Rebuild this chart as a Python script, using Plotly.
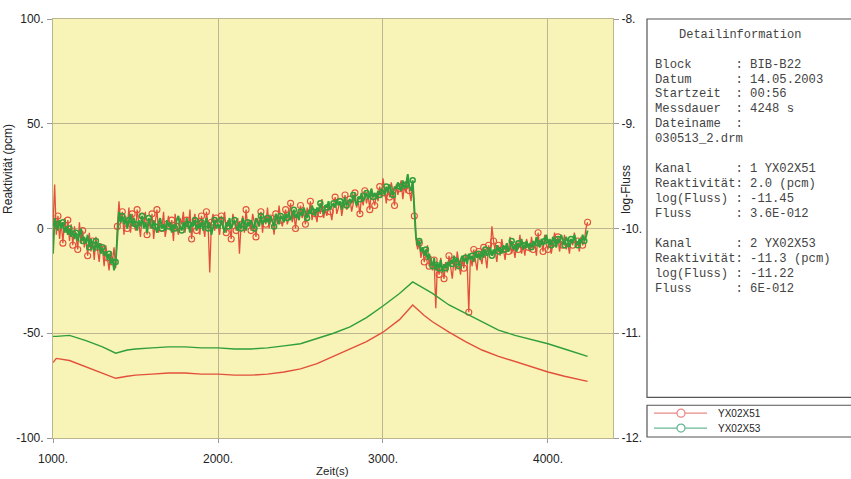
import plotly.graph_objects as go

# ---------------- data ----------------
t_start, t_step, t_end = 1000, 10, 4240
zeit = list(range(t_start, t_end + 1, t_step))

reak_x51 = [
    1, 21, -3, 6, -5, 3, -7, 5, -2, 4,
    -6, 2, -8, 1, -4, -10, 3, -7, -1, -9,
    -5, -13, -2, -11, -6, -15, -4, -9, -16, -7,
    -10, -18, -8, -14, -20, -11, -16, -9, -19, 1,
    13, 2, 8, -3, 6, 0, 10, -2, 7, 3,
    -1, 9, 2, -4, 6, 1, 8, -3, 4, 0,
    7, -5, 3, 9, -2, 5, 0, 8, -4, 2,
    6, -1, 4, -6, 7, 1, -3, 5, 2, 8,
    -2, 4, 0, 9, -5, 3, 7, -1, 5, -3,
    6, 1, -4, 8, 2, -21, 3, 7, -1, 5,
    2, -3, 6, 0, 8, -2, 4, 1, -5, 7,
    3, -1, 5, -12, 2, 6, -2, 9, 1, 4,
    -1, 7, 3, -4, 5, 1, 8, -2, 6, 2,
    10, 0, 5, 3, -3, 7, 2, 11, 4, 1,
    6, 9, 2, 5, 12, 3, 7, 0, 8, 4,
    11, 5, 8, 2, 10, 6, 13, 4, 9, 7,
    3, 10, 7, 14, 5, 9, 6, 12, 8, 4,
    11, 15, 7, 10, 13, 6, 12, 16, 9, 11,
    14, 8, 12, 17, 10, 13, 7, 15, 11, 18,
    12, 16, 9, 19, 14, 11, 17, 13, 20, 15,
    24, 17, 12, 20, 15, 22, 18, 11, 21, 16,
    19, 23, 14, 20, 17, 25, 18, 13, 22, 6,
    -5, -10, -7, -14, -9, -16, -12, -8, -18, -13,
    -20, -15, -38, -17, -22, -14, -19, -24, -16, -21,
    -13, -18, -24, -15, -20, -11, -17, -22, -14, -19,
    -12, -16, -40, -13, -18, -10, -15, -20, -11, -14,
    -17, -9, -13, -19, -8, -12, 1, -6, -11, -16,
    -8, -13, -5, -10, -15, -7, -11, -4, -12, -9,
    -14, -6, -10, -3, -12, -8, -13, -5, -9, -11,
    -4, -10, -7, -13, -2, -9, -6, -11, -3, -8,
    -10, -5, -12, -7, -2, -9, -4, -11, -6, -8,
    -3, -10, -7, -12, -5, -8, -2, -9, -6, -11,
    -4, -8, -6, 0, 3,
]

reak_x53 = [
    -12, 5, 2, -1, 4, 0, 3, -2, 1, -3,
    0, -4, -1, -5, -2, -6, -3, 0, -6, -4,
    -7, -3, -9, -5, -8, -11, -6, -10, -7, -12,
    -9, -13, -11, -15, -12, -17, -14, -20, -16, -2,
    8, 3, 6, 2, 5, 0, 4, 7, 1, 5,
    2, -1, 4, 1, 6, 0, 3, -2, 5, 2,
    0, 4, 1, -2, 3, 5, 0, 2, -1, 4,
    1, 3, -2, 2, 0, 4, 6, 1, -1, 3,
    0, 5, 2, -2, 3, 1, 4, -1, 2, 0,
    3, -1, 2, 5, 0, 3, -3, 1, 4, 0,
    2, 0, 4, 1, -2, 3, 1, 5, 0, 2,
    4, 1, -1, 3, 0, 5, 2, -1, 3, 1,
    4, 2, 0, 5, 3, 1, 6, 2, 4, 3,
    5, 2, 6, 3, 1, 7, 4, 2, 6, 5,
    3, 7, 5, 8, 4, 6, 9, 5, 7, 4,
    8, 6, 10, 7, 5, 9, 7, 11, 8, 6,
    10, 8, 12, 9, 7, 11, 10, 13, 9, 11,
    12, 10, 14, 11, 13, 9, 12, 15, 11, 13,
    14, 12, 16, 13, 11, 15, 14, 17, 13, 15,
    17, 14, 16, 19, 15, 17, 14, 18, 16, 19,
    18, 16, 20, 17, 21, 18, 16, 20, 19, 22,
    20, 18, 23, 19, 21, 26, 20, 18, 23, 8,
    -4, -8, -6, -11, -9, -13, -10, -15, -12, -16,
    -18, -14, -20, -16, -19, -15, -21, -17, -19, -16,
    -18, -15, -17, -13, -16, -14, -18, -15, -13, -16,
    -14, -17, -12, -15, -13, -16, -11, -14, -12, -15,
    -11, -14, -10, -13, -12, -9, -13, -10, -12, -8,
    -11, -9, -12, -8, -10, -7, -11, -9, -6, -10,
    -8, -11, -7, -9, -5, -10, -8, -6, -9, -7,
    -9, -6, -8, -4, -7, -9, -5, -8, -6, -3,
    -7, -5, -8, -4, -6, -9, -5, -7, -3, -6,
    -8, -4, -6, -9, -5, -7, -3, -6, -8, -5,
    -7, -3, -6, -4, -1,
]

fluss_zeit = [1000, 1020, 1100, 1200, 1300, 1380, 1450, 1500, 1600, 1700, 1800,
              1900, 2000, 2100, 2200, 2300, 2400, 2500, 2600, 2700, 2800, 2900,
              3000, 3100, 3180, 3250, 3300, 3400, 3500, 3600, 3700, 3800, 3900,
              4000, 4100, 4200, 4240]

logfluss_x51 = [-11.28, -11.24, -11.26, -11.32, -11.38, -11.43, -11.41, -11.40, -11.39,
                -11.38, -11.38, -11.39, -11.39, -11.40, -11.40, -11.39, -11.37, -11.34,
                -11.29, -11.22, -11.15, -11.08, -10.99, -10.87, -10.73, -10.83, -10.89,
                -10.99, -11.08, -11.16, -11.22, -11.27, -11.32, -11.37, -11.41, -11.45,
                -11.46]

logfluss_x53 = [-11.03, -11.03, -11.02, -11.07, -11.13, -11.19, -11.16, -11.15, -11.14,
                -11.13, -11.13, -11.14, -11.14, -11.15, -11.15, -11.14, -11.12, -11.10,
                -11.05, -11.00, -10.94, -10.85, -10.74, -10.62, -10.51, -10.57, -10.62,
                -10.73, -10.81, -10.89, -10.97, -11.02, -11.06, -11.10, -11.15, -11.20,
                -11.22]

kanal_namen = ["YX02X51", "YX02X53"]

x_ticks = [1000, 2000, 3000, 4000]
x_ticktext = ["1000.", "2000.", "3000.", "4000."]
y_ticks = [-100, -50, 0, 50, 100]
y_ticktext = ["-100.", "-50.", "0", "50.", "100."]
y2_ticks = [-12, -11, -10, -9, -8]
y2_ticktext = ["-12.", "-11.", "-10.", "-9.", "-8."]

info_zeilen = [
    "Block      : BIB-B22",
    "Datum      : 14.05.2003",
    "Startzeit  : 00:56",
    "Messdauer  : 4248 s",
    "Dateiname  :",
    "030513_2.drm",
    "",
    "Kanal      : 1 YX02X51",
    "Reaktivität: 2.0 (pcm)",
    "log(Fluss) : -11.45",
    "Fluss      : 3.6E-012",
    "",
    "Kanal      : 2 YX02X53",
    "Reaktivität: -11.3 (pcm)",
    "log(Fluss) : -11.22",
    "Fluss      : 6E-012",
]

# ---------------- style ----------------
W, H = 851, 479
L, R, T, B = 53, 613, 16, 438
RED = "#e2503c"
GREEN = "#2f9e3c"
RED_LEG = "#e98a86"
GREEN_LEG = "#6cb79a"
BG = "#f8f3b6"
GRID = "#bdb58f"
SANS = "Liberation Sans, Arial, sans-serif"
MONO = "Liberation Mono, Courier New, monospace"
TXT = "#222222"


def fx(xp):
    return (xp - L) / (R - L)


def fy(yp):
    return (B - yp) / (B - T)


fig = go.Figure()

# log flux lines (right axis)
fig.add_trace(go.Scatter(x=fluss_zeit, y=logfluss_x51, yaxis="y2", mode="lines",
                         line=dict(color=RED, width=1.4), showlegend=False))
fig.add_trace(go.Scatter(x=fluss_zeit, y=logfluss_x53, yaxis="y2", mode="lines",
                         line=dict(color=GREEN, width=1.4), showlegend=False))

# reactivity (left axis)
fig.add_trace(go.Scatter(x=zeit, y=reak_x51, mode="lines",
                         line=dict(color=RED, width=1.3), showlegend=False))
fig.add_trace(go.Scatter(x=zeit[::3], y=reak_x51[::3], mode="markers",
                         marker=dict(symbol="circle-open", size=6, color=RED,
                                     line=dict(width=1.1)), showlegend=False))
fig.add_trace(go.Scatter(x=zeit, y=reak_x53, mode="lines",
                         line=dict(color=GREEN, width=1.9), showlegend=False))
fig.add_trace(go.Scatter(x=zeit[2::4], y=reak_x53[2::4], mode="markers",
                         marker=dict(symbol="circle-open", size=5, color=GREEN,
                                     line=dict(width=1.5)), showlegend=False))

shapes = [
    dict(type="rect", xref="paper", yref="paper", x0=fx(647), x1=fx(853),
         y0=fy(397), y1=fy(16), line=dict(color="#555555", width=1.2),
         fillcolor="white", layer="below"),
    dict(type="rect", xref="paper", yref="paper", x0=fx(647), x1=fx(853),
         y0=fy(437), y1=fy(405), line=dict(color="#555555", width=1.2),
         fillcolor="white", layer="below"),
]

annotations = [
    dict(text="Detailinformation", x=fx(740), y=fy(32), xref="paper", yref="paper",
         showarrow=False, font=dict(family=MONO, size=12, color="#444444"),
         xanchor="center", yanchor="middle"),
    dict(text="Reaktivität (pcm)", x=fx(8), y=fy(167), xref="paper", yref="paper",
         showarrow=False, textangle=-90, font=dict(family=SANS, size=12, color=TXT),
         xanchor="center", yanchor="middle"),
    dict(text="log-Fluss", x=fx(626), y=fy(188), xref="paper", yref="paper",
         showarrow=False, textangle=-90, font=dict(family=SANS, size=12, color=TXT),
         xanchor="center", yanchor="middle"),
    dict(text="Zeit(s)", x=fx(332), y=fy(471), xref="paper", yref="paper",
         showarrow=False, font=dict(family=SANS, size=11.5, color=TXT),
         xanchor="center", yanchor="middle"),
]
y_pos = [62, 77, 92, 107, 122, 137, 152, 167, 182, 197, 212, 228, 243, 258, 273, 288]
for zeile, yp in zip(info_zeilen, y_pos):
    if not zeile:
        continue
    annotations.append(dict(text=zeile.replace(" ", "\u00a0"), x=fx(653), y=fy(yp),
                            xref="paper", yref="paper", showarrow=False,
                            font=dict(family=MONO, size=12.2, color="#444444"),
                            xanchor="left", yanchor="middle"))

# legend box entries (drawn into the bordered legend frame)
for name, col, yp in zip(kanal_namen, [RED_LEG, GREEN_LEG], [413, 428]):
    shapes.append(dict(type="line", xref="paper", yref="paper", x0=fx(654), x1=fx(707),
                       y0=fy(yp), y1=fy(yp), line=dict(color=col, width=1.3)))
    shapes.append(dict(type="circle", xref="paper", yref="paper", x0=fx(677), x1=fx(685),
                       y0=fy(yp + 4), y1=fy(yp - 4), line=dict(color=col, width=1.3),
                       fillcolor="white"))
    annotations.append(dict(text=name, x=fx(716), y=fy(yp), xref="paper", yref="paper",
                            showarrow=False, font=dict(family=SANS, size=10, color=TXT),
                            xanchor="left", yanchor="middle"))

fig.update_layout(
    width=W, height=H,
    margin=dict(l=L, r=W - R, t=T, b=H - B),
    paper_bgcolor="white", plot_bgcolor=BG,
    font=dict(family=SANS, size=12, color=TXT),
    showlegend=False,
    xaxis=dict(range=[1000, 4394], tickvals=x_ticks, ticktext=x_ticktext,
               showgrid=True, gridcolor=GRID, gridwidth=1, zeroline=False,
               showline=True, linecolor=GRID, linewidth=1, mirror=True,
               ticks="outside", ticklen=4, tickcolor="#999999",
               ticklabelstandoff=6, tickfont=dict(size=12)),
    yaxis=dict(range=[-100, 100], tickvals=y_ticks, ticktext=y_ticktext,
               showgrid=True, gridcolor=GRID, gridwidth=1, zeroline=False,
               showline=True, linecolor=GRID, linewidth=1, mirror=True,
               ticks="outside", ticklen=5, tickcolor="#999999",
               ticklabelstandoff=1, tickfont=dict(size=12)),
    yaxis2=dict(range=[-12, -8], tickvals=y2_ticks, ticktext=y2_ticktext,
                overlaying="y", side="right", showgrid=False, zeroline=False,
                ticks="outside", ticklen=5, tickcolor="#999999",
                ticklabelstandoff=0, tickfont=dict(size=12)),
    shapes=shapes,
    annotations=annotations,
)

fig.write_html("out.html", config={"displayModeBar": False},
               post_script="document.body.style.margin='0';document.body.style.overflow='hidden';")
